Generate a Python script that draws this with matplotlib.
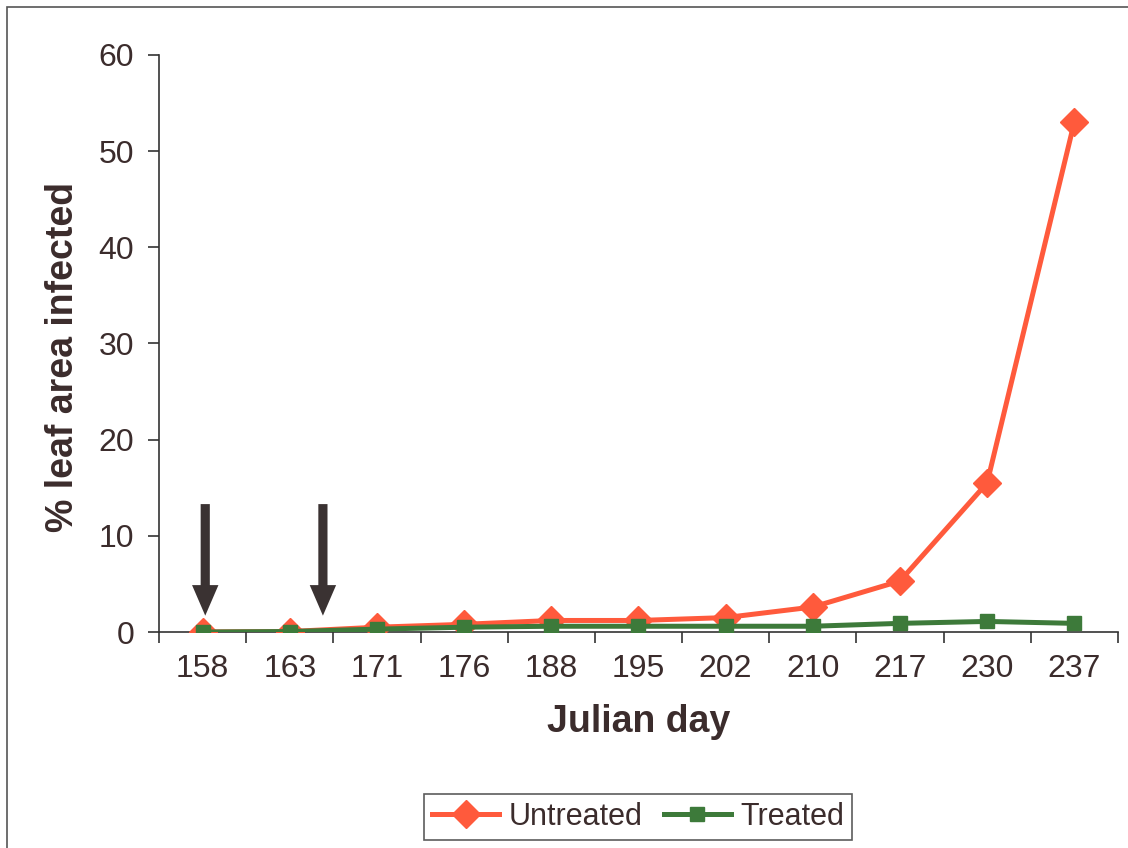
import matplotlib
matplotlib.use("Agg")
import matplotlib.pyplot as plt
from matplotlib.patches import Rectangle

plt.rcParams['font.family'] = ['Liberation Sans', 'DejaVu Sans']

days = ['158', '163', '171', '176', '188', '195', '202', '210', '217', '230', '237']
untreated = [0.0, 0.05, 0.5, 0.8, 1.2, 1.2, 1.5, 2.6, 5.3, 15.5, 53.0]
treated = [0.0, 0.05, 0.3, 0.5, 0.6, 0.6, 0.6, 0.6, 0.9, 1.1, 0.9]
# spray dates (position on the category axis)
spray_pos = [0.03, 1.38]

txt = '#3b2c2c'
red = '#ff5a3c'
green = '#3d7a3a'

fig = plt.figure(figsize=(11.28, 8.48), dpi=100)
ax = fig.add_axes([0.141, 0.2547, 0.85, 0.6805])

x = list(range(len(days)))
ax.plot(x, untreated, color=red, lw=3.6, marker='D', ms=14, mfc=red, mec=red,
        label='Untreated', zorder=3)
ax.plot(x, treated, color=green, lw=3.6, marker='s', ms=10, mfc=green, mec=green,
        label='Treated', zorder=4)

for p in spray_pos:
    ax.annotate('', xy=(p, 1.7), xytext=(p, 13.3),
                arrowprops=dict(arrowstyle='simple,head_length=1.1,head_width=0.95,tail_width=0.33',
                                mutation_scale=20, color='#3a3232', lw=0, shrinkA=0, shrinkB=0))

ax.set_xlim(-0.5, len(days) - 0.5)
ax.set_ylim(0, 60)
ax.set_yticks(range(0, 61, 10))
ax.set_xticks(x)
ax.set_xticklabels(days)
ax.set_xticks([i - 0.5 for i in range(len(days) + 1)], minor=True)
ax.tick_params(axis='x', which='major', length=0, pad=16)
ax.tick_params(axis='x', which='minor', length=8, width=1.2, color='#333333', direction='out')
ax.tick_params(axis='y', length=8, width=1.2, color='#333333', pad=10)
ax.tick_params(labelsize=23, labelcolor=txt)

for s in ['top', 'right']:
    ax.spines[s].set_visible(False)
for s in ['left', 'bottom']:
    ax.spines[s].set_color('#333333')
    ax.spines[s].set_linewidth(1.2)

ax.set_xlabel('Julian day', fontsize=27, fontweight='bold', color=txt, labelpad=14)
ax.set_ylabel('% leaf area infected', fontsize=27, fontweight='bold', color=txt)
ax.yaxis.set_label_coords(-0.081, 0.477)

leg = fig.legend(loc='center', bbox_to_anchor=(638 / 1128, 1 - 817 / 848), ncol=2,
                 fontsize=22, frameon=True, fancybox=False, edgecolor='#333333',
                 handlelength=2.2, columnspacing=0.7, handletextpad=0.3,
                 borderpad=0.25)
leg.get_frame().set_linewidth(1.2)
for t in leg.get_texts():
    t.set_color(txt)

fig.patches.append(Rectangle((7 / 1128, -0.05), 1.1, 1.05 - 7 / 848, transform=fig.transFigure,
                             fill=False, edgecolor='#555555', lw=1.2))

fig.savefig('out.png', dpi=100)
